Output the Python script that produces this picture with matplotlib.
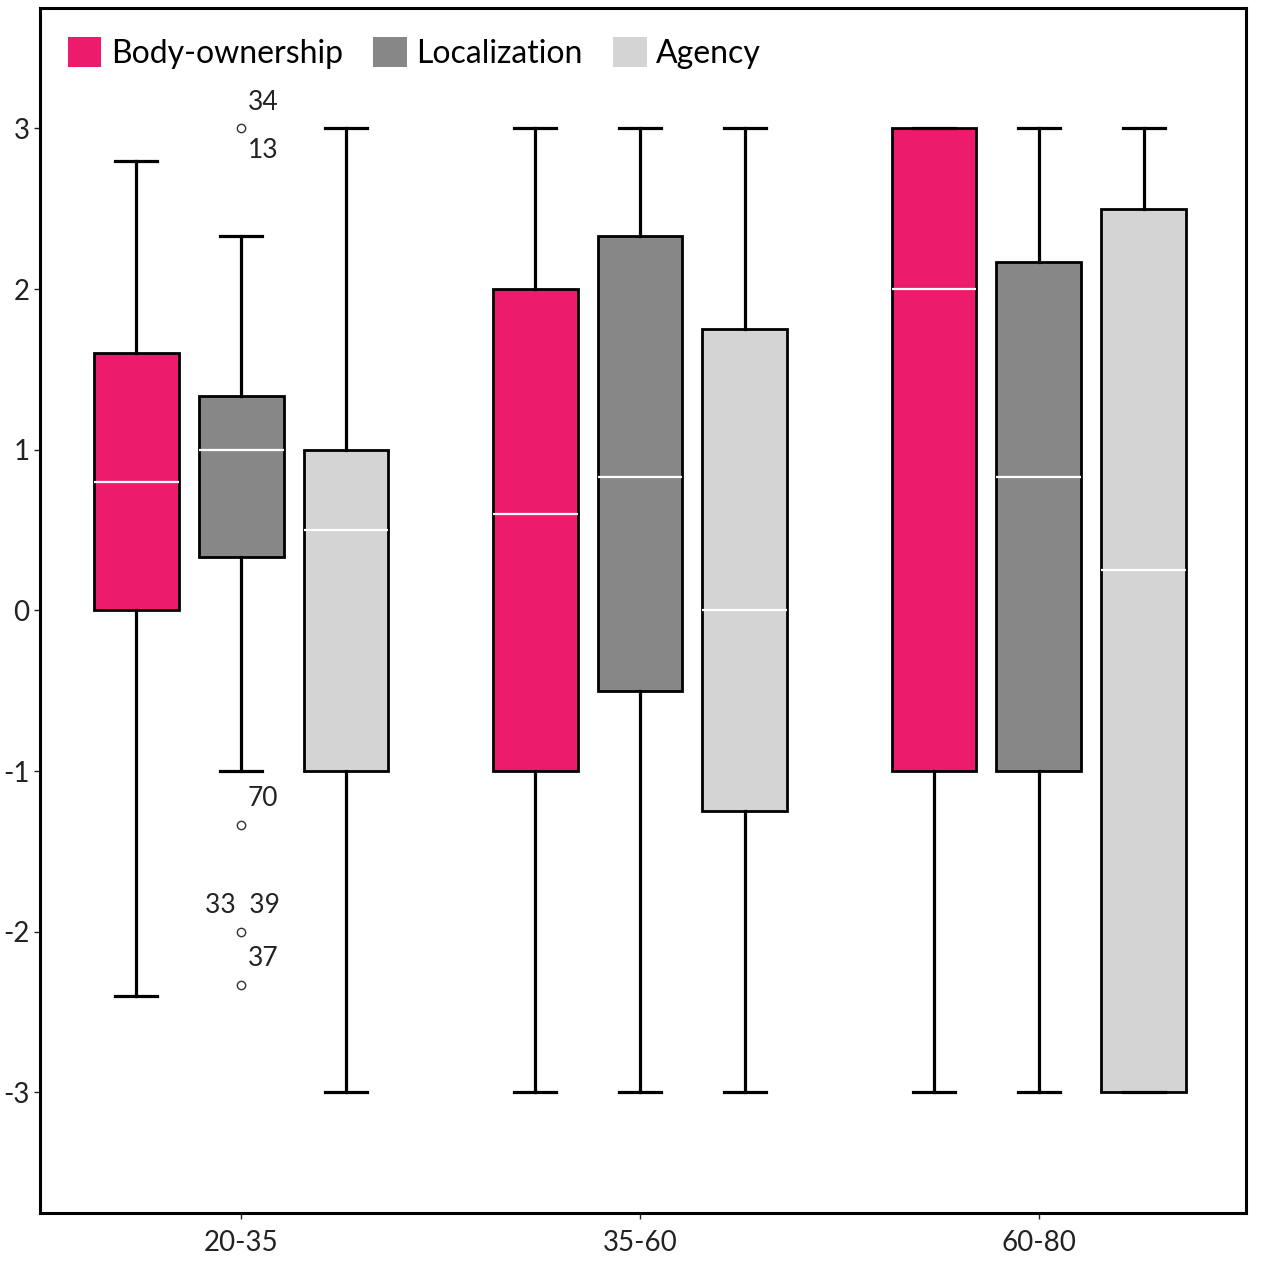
import matplotlib.pyplot as plt
from matplotlib.patches import Patch

plt.rcParams['font.family'] = ['Lato', 'DejaVu Sans']

groups = ["20-35", "35-60", "60-80"]
measures = ["Body-ownership", "Localization", "Agency"]
colors = ["#ED1B6C", "#878787", "#D4D4D4"]

# whislo, q1, median, q3, whishi per measure, one entry per group
body_ownership = [[-2.4, 0.0, 0.8, 1.6, 2.8],
                  [-3.0, -1.0, 0.6, 2.0, 3.0],
                  [-3.0, -1.0, 2.0, 3.0, 3.0]]
localization = [[-1.0, 0.333, 1.0, 1.333, 2.333],
                [-3.0, -0.5, 0.833, 2.333, 3.0],
                [-3.0, -1.0, 0.833, 2.167, 3.0]]
agency = [[-3.0, -1.0, 0.5, 1.0, 3.0],
          [-3.0, -1.25, 0.0, 1.75, 3.0],
          [-3.0, -3.0, 0.25, 2.5, 3.0]]

# outliers: Localization, 20-35
loc_outliers = [3.0, -1.333, -2.0, -2.333]
outlier_labels = [("34", 3.0, 19), ("13", 3.0, -16), ("70", -1.333, 19),
                  ("33  39", -2.0, 19), ("37", -2.333, 19)]

series = [body_ownership, localization, agency]
offsets = [-0.263, 0.0, 0.263]

fig = plt.figure(figsize=(12.63, 12.66), dpi=100)
ax = fig.add_axes([0.0317, 0.0419, 0.9548, 0.9518])

for m, (data, col, off) in enumerate(zip(series, colors, offsets)):
    stats = []
    for g, vals in enumerate(data):
        s = dict(whislo=vals[0], q1=vals[1], med=vals[2], q3=vals[3], whishi=vals[4], fliers=[])
        if m == 1 and g == 0:
            s["fliers"] = loc_outliers
        stats.append(s)
    pos = [g + 1 + off for g in range(len(groups))]
    ax.bxp(stats, positions=pos, widths=0.213, patch_artist=True, showfliers=True,
           boxprops=dict(facecolor=col, edgecolor="black", linewidth=2.0),
           medianprops=dict(color="white", linewidth=1.6),
           whiskerprops=dict(color="black", linewidth=2.3),
           capprops=dict(color="black", linewidth=2.3),
           capwidths=0.105,
           flierprops=dict(marker="o", markersize=6, markerfacecolor="white",
                           markeredgecolor="#333333", markeredgewidth=1.0))

for txt, yv, dy in outlier_labels:
    ha = "left"
    dx = 5
    if txt.startswith("33"):
        ha = "center"
        dx = 1
    ax.annotate(txt, (1.0, yv), xytext=(dx, dy), textcoords="offset points",
                ha=ha, va="center", fontsize=19, color="#222222")

ax.set_xlim(0.496, 3.519)
ax.set_ylim(-3.75, 3.75)
ax.set_xticks([1, 2, 3])
ax.set_xticklabels(groups)
ax.set_yticks([-3, -2, -1, 0, 1, 2, 3])
ax.set_yticklabels(["-3", "-2", "-1", "0", "1", "2", "3"])
ax.tick_params(axis="both", labelsize=20, length=4, width=1, colors="#222222")
ax.tick_params(axis="x", pad=8)
for sp in ax.spines.values():
    sp.set_linewidth(2.2)

handles = [Patch(facecolor=c, edgecolor="none") for c in colors]
ax.legend(handles, measures, loc="center left", bbox_to_anchor=(0.023, 0.9625),
          ncol=3, frameon=False, fontsize=23, handlelength=1.05, handleheight=1.05,
          handletextpad=0.3, columnspacing=0.95, borderpad=0, borderaxespad=0)

fig.savefig("out.png", dpi=100)
